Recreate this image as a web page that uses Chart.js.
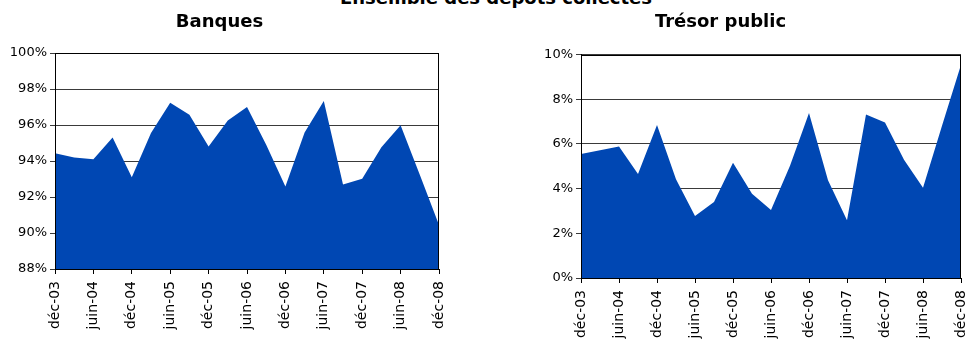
<!DOCTYPE html>
<html lang="fr">
<head>
<meta charset="utf-8">
<title>Ensemble des dépôts collectés</title>
<script src="https://cdn.jsdelivr.net/npm/chart.js@4.4.1/dist/chart.umd.min.js"></script>
<style>
    html, body { margin: 0; padding: 0; background: #fff; overflow: hidden; }
    body { position: relative; width: 969px; height: 340px; font-family: "DejaVu Sans", sans-serif; }
    #mainTitle {
        position: absolute; left: 0; width: 992px; top: -12px;
        text-align: center; font-size: 18px; font-weight: bold; line-height: 20px; color: #000;
    }
    #banques { position: absolute; left: 0; top: 0; }
    #tresor { position: absolute; left: 480px; top: 0; }
</style>
</head>
<body>
<div id="mainTitle">Ensemble des dépôts collectés</div>
<canvas id="banques" width="480" height="340"></canvas>
<canvas id="tresor" width="489" height="340"></canvas>
<script>
// Quarterly points, Dec 2003 to Dec 2008 (only every other one is labelled)
var categories = [
    'déc-03', 'mars-04', 'juin-04', 'sept-04',
    'déc-04', 'mars-05', 'juin-05', 'sept-05',
    'déc-05', 'mars-06', 'juin-06', 'sept-06',
    'déc-06', 'mars-07', 'juin-07', 'sept-07',
    'déc-07', 'mars-08', 'juin-08', 'sept-08',
    'déc-08'
];

// Share of deposits collected (%)
var banquesValues = [
    94.43, 94.2, 94.1, 95.3, 93.1, 95.55, 97.24, 96.57, 94.8, 96.25, 97.0,
    94.9, 92.58, 95.58, 97.33, 92.69, 93.02, 94.77, 95.99, 93.23, 90.45
];
var tresorValues = [
    5.55, 5.72, 5.89, 4.66, 6.85, 4.42, 2.77, 3.4, 5.16, 3.77, 3.04,
    5.02, 7.39, 4.37, 2.58, 7.32, 6.96, 5.29, 4.04, 6.82, 9.55
];

// Y axis ranges (tick labels every 2 points)
var banquesTicks = { min: 88, max: 100, step: 2 };
var tresorTicks = { min: 0, max: 10, step: 2 };

var fillColor = '#0047B3';

Chart.defaults.font.family = '"DejaVu Sans", sans-serif';
Chart.defaults.font.size = 13;
Chart.defaults.color = '#000';

// full black frame around the plot area
var plotFrame = {
    id: 'plotFrame',
    afterDatasetsDraw: function (chart) {
        var a = chart.chartArea;
        var ctx = chart.ctx;
        ctx.save();
        ctx.strokeStyle = '#000';
        ctx.lineWidth = 1;
        ctx.strokeRect(Math.round(a.left) + 0.5, Math.round(a.top) + 0.5,
            Math.round(a.right - a.left) - 1, Math.round(a.bottom - a.top));
        ctx.restore();
    }
};

window.renderAreaChart = function (canvasId, title, values, ticks, opts) {
    var canvas = document.getElementById(canvasId);
    if (!canvas) return null;

    return new Chart(canvas.getContext('2d'), {
        type: 'line',
        data: {
            labels: categories,
            datasets: [{
                data: values,
                fill: 'start',
                backgroundColor: fillColor,
                borderWidth: 0,
                pointRadius: 0,
                tension: 0
            }]
        },
        options: {
            responsive: false,
            animation: false,
            devicePixelRatio: 1,
            layout: { padding: { top: 0, right: opts.padRight, bottom: 0, left: 0 } },
            plugins: {
                legend: { display: false },
                tooltip: { enabled: false },
                title: {
                    display: true,
                    text: title,
                    color: '#000',
                    font: { size: 18, weight: 'bold' },
                    padding: { top: 12, bottom: opts.titleGap }
                }
            },
            scales: {
                x: {
                    offset: false,
                    grid: {
                        drawOnChartArea: false,
                        drawTicks: true,
                        tickLength: 5,
                        color: function (c) { return c.index % 2 === 0 ? '#000' : 'rgba(0,0,0,0)'; }
                    },
                    border: { display: true, color: '#000' },
                    ticks: {
                        autoSkip: false,
                        minRotation: 90,
                        maxRotation: 90,
                        padding: 7,
                        font: { size: 14 },
                        callback: function (v, i) { return i % 2 === 0 ? this.getLabelForValue(v) : ''; }
                    },
                    afterFit: function (scale) {
                        // keep the plot edges fixed, labels may overhang
                        scale.height = opts.xHeight;
                        scale.paddingLeft = 0;
                        scale.paddingRight = 0;
                    }
                },
                y: {
                    min: ticks.min,
                    max: ticks.max,
                    grid: { color: '#3a3a3a', tickLength: 5 },
                    border: { display: true, color: '#000' },
                    ticks: {
                        stepSize: ticks.step,
                        padding: 3,
                        font: { size: 13 },
                        callback: function (v) { return v + '%'; }
                    },
                    afterFit: function (scale) { scale.width = opts.yWidth; }
                }
            }
        },
        plugins: [plotFrame]
    });
};

renderAreaChart('banques', 'Banques', banquesValues, banquesTicks,
    { padRight: 41, titleGap: 19.4, xHeight: 71, yWidth: 55 });
renderAreaChart('tresor', 'Trésor public', tresorValues, tresorTicks,
    { padRight: 8, titleGap: 21, xHeight: 62, yWidth: 101 });
</script>
</body>
</html>
